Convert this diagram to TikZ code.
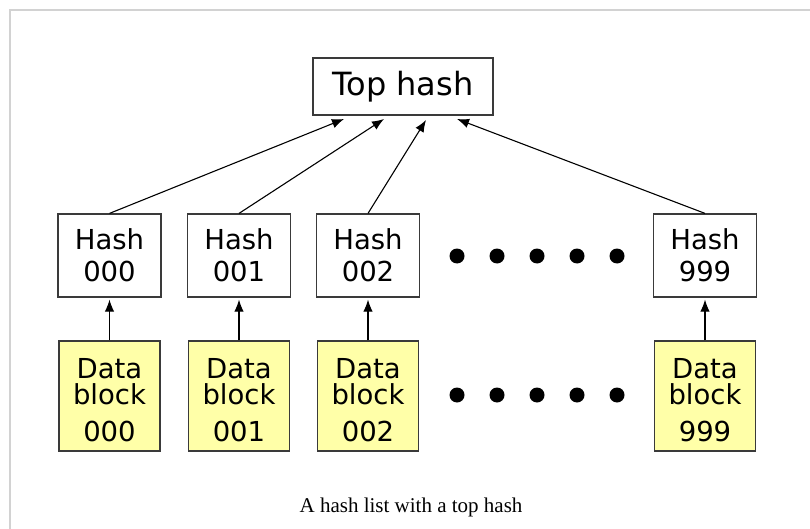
\documentclass[tikz,border=0pt]{standalone}
\usepackage{fontspec}
\setmainfont{Liberation Serif}
\newfontfamily\boxfont{DejaVu Sans}
\usepackage{xcolor}
\definecolor{blockyellow}{HTML}{FFFFA8}
\definecolor{edgegray}{HTML}{3A3A3A}
\definecolor{framegray}{HTML}{D2D2D2}
\usetikzlibrary{arrows.meta}
\tikzset{>={Latex[length=12pt,width=9.5pt]}}

\begin{document}
\begin{tikzpicture}[x=1pt, y=-1pt,
  hashbox/.style={draw=edgegray, line width=1.2pt, fill=white, inner sep=0pt,
    minimum width=103pt, minimum height=83pt, align=center,
    font=\boxfont\fontsize{27.5}{32}\selectfont},
  databox/.style={hashbox, fill=blockyellow, minimum width=101pt, minimum height=110pt,
    font=\boxfont\fontsize{27.5}{26}\selectfont},
  link/.style={->, line width=1.1pt}]

  \useasboundingbox (0,0) rectangle (810,529);

  % frame of the figure
  \draw[framegray, line width=1.5pt] (10,529) -- (10,10) -- (810,10);

  % top hash
  \node[hashbox, minimum width=180pt, minimum height=57pt,
    font=\boxfont\fontsize{32}{38}\selectfont] (top) at (403,86.5) {Top hash};

  % hashes of the blocks
  \node[hashbox] (h000) at (109.5,255.5) {Hash\\000};
  \node[hashbox] (h001) at (239,255.5) {Hash\\001};
  \node[hashbox] (h002) at (368,255.5) {Hash\\002};
  \node[hashbox] (h999) at (705,255.5) {Hash\\999};

  % data blocks
  \node[databox] (d000) at (109.5,396) {\rule{0pt}{28pt}Data\\block\\[11pt]000};
  \node[databox] (d001) at (239,396) {\rule{0pt}{28pt}Data\\block\\[11pt]001};
  \node[databox] (d002) at (368,396) {\rule{0pt}{28pt}Data\\block\\[11pt]002};
  \node[databox] (d999) at (705,396) {\rule{0pt}{28pt}Data\\block\\[11pt]999};

  % the gaps
  \fill (457,256) circle (7.5); \fill (497,256) circle (7.5); \fill (537,256) circle (7.5);
  \fill (577,256) circle (7.5); \fill (617,256) circle (7.5);
  \fill (457,395) circle (7.5); \fill (497,395) circle (7.5); \fill (537,395) circle (7.5);
  \fill (577,395) circle (7.5); \fill (617,395) circle (7.5);

  % block -> hash
  \draw[link, shorten >=2pt] (d000) -- (h000);
  \draw[link, shorten >=2pt] (d001) -- (h001);
  \draw[link, shorten >=2pt] (d002) -- (h002);
  \draw[link, shorten >=2pt] (d999) -- (h999);

  % hash -> top hash
  \coordinate (in000) at (344,119);
  \coordinate (in001) at (384,119);
  \coordinate (in002) at (426,120);
  \coordinate (in999) at (457,119);
  \draw[link] (h000.north) -- (in000);
  \draw[link] (h001.north) -- (in001);
  \draw[link] (h002.north) -- (in002);
  \draw[link] (h999.north) -- (in999);

  % caption
  \node[font=\fontsize{21}{25}\selectfont] (caption) at (411,507) {A hash list with a top hash};

\end{tikzpicture}
\end{document}
